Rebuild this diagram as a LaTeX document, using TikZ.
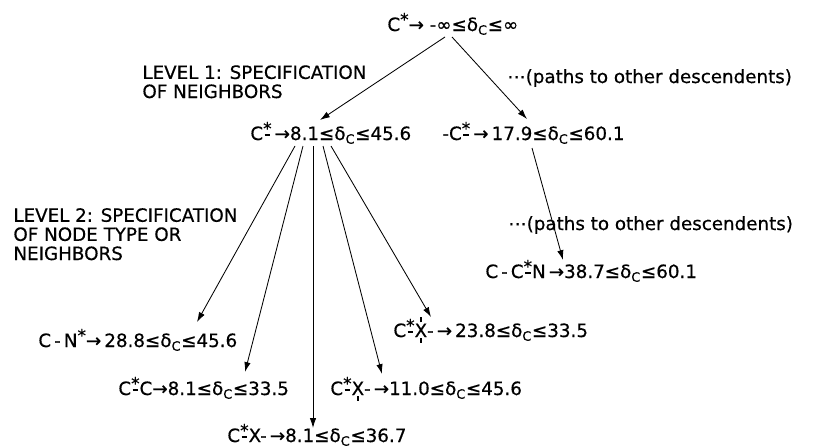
\documentclass[tikz,border=0pt]{standalone}
\usepackage{fontspec}
\setmainfont[FakeBold=0.5]{DejaVu Sans}
\usetikzlibrary{arrows.meta,calc}
\newcommand{\dC}{δ\textsubscript{C}}
\newcommand{\cst}{\raisebox{.3em}{\large*}}
\newcommand{\sbond}{\ooalign{\hfil\raisebox{.3em}{\large*}\hfil\cr\hfil\rule[.24em]{.3em}{.075em}\hfil\cr}}
\newcommand{\xlow}{\ooalign{X\cr\hfil\rule[-.32em]{.07em}{.26em}\hfil\cr}}
\newcommand{\xtwo}{\ooalign{X\cr\hfil\rule[-.32em]{.07em}{.26em}\hfil\cr\hfil\rule[.8em]{.07em}{.28em}\hfil\cr}}

\begin{document}
\begin{tikzpicture}[x=0.025cm,y=-0.025cm,>={Latex[length=7pt,width=4.5pt]},line width=0.6pt,
  every node/.style={font=\fontsize{13}{13.5}\selectfont,inner sep=0pt,anchor=base west}]
\tikzset{lvl/.style={align=left,font=\fontsize{13}{13.6}\selectfont}}
\useasboundingbox (0,0) rectangle (839,447);
% root and level labels
\node (root) at (387,31) {C\cst→ -∞≤\dC≤∞};
\node[lvl] (lev1) at (142,98) {LEVEL 1: SPECIFICATION\\OF NEIGHBORS};
\node (oth1) at (507,83) {⋯(paths to other descendents)};
\node[lvl] (lev2) at (13,260) {LEVEL 2: SPECIFICATION\\OF NODE TYPE OR\\NEIGHBORS};
\node (oth2) at (508,230) {⋯(paths to other descendents)};
% level 1
\node (lA) at (250,140) {C\sbond\,→8.1≤\dC≤45.6};
\node (lB) at (442,140) {-C\sbond\,→\,17.9≤\dC≤60.1};
% level 2
\node (rC) at (485,278) {C\,-\,C\sbond N\,→38.7≤\dC≤60.1};
\node (nA) at (38,347) {C\,-\,N\cst→\,28.8≤\dC≤45.6};
\node (nE) at (393,337) {C\sbond\xtwo-\,→\,23.8≤\dC≤33.5};
\node (nB) at (118,395) {C\sbond C→8.1≤\dC≤33.5};
\node (nD) at (330,395) {C\sbond\xlow-\,→11.0≤\dC≤45.6};
\node (nC) at (227,442) {C\sbond X-\,→8.1≤\dC≤36.7};
% connectors
\draw[->] ($(root.base west)+(58,6)$) -- ($(lA.base west)+(70,-20)$);
\draw[->] ($(root.base west)+(65,6)$) -- ($(lB.base west)+(85,-21)$);
\draw[->] ($(lB.base west)+(90,8)$) -- ($(rC.base west)+(78,-18)$);
\draw[->] ($(lA.base west)+(45,6)$) -- ($(nA.base west)+(159,-25)$);
\draw[->] ($(lA.base west)+(53,6)$) -- ($(nB.base west)+(127,-23)$);
\draw[->] ($(lA.base west)+(63,6)$) -- ($(nC.base west)+(86,-14)$);
\draw[->] ($(lA.base west)+(73,6)$) -- ($(nD.base west)+(52,-21)$);
\draw[->] ($(lA.base west)+(81,6)$) -- ($(nE.base west)+(38,-20)$);
\end{tikzpicture}
\end{document}
